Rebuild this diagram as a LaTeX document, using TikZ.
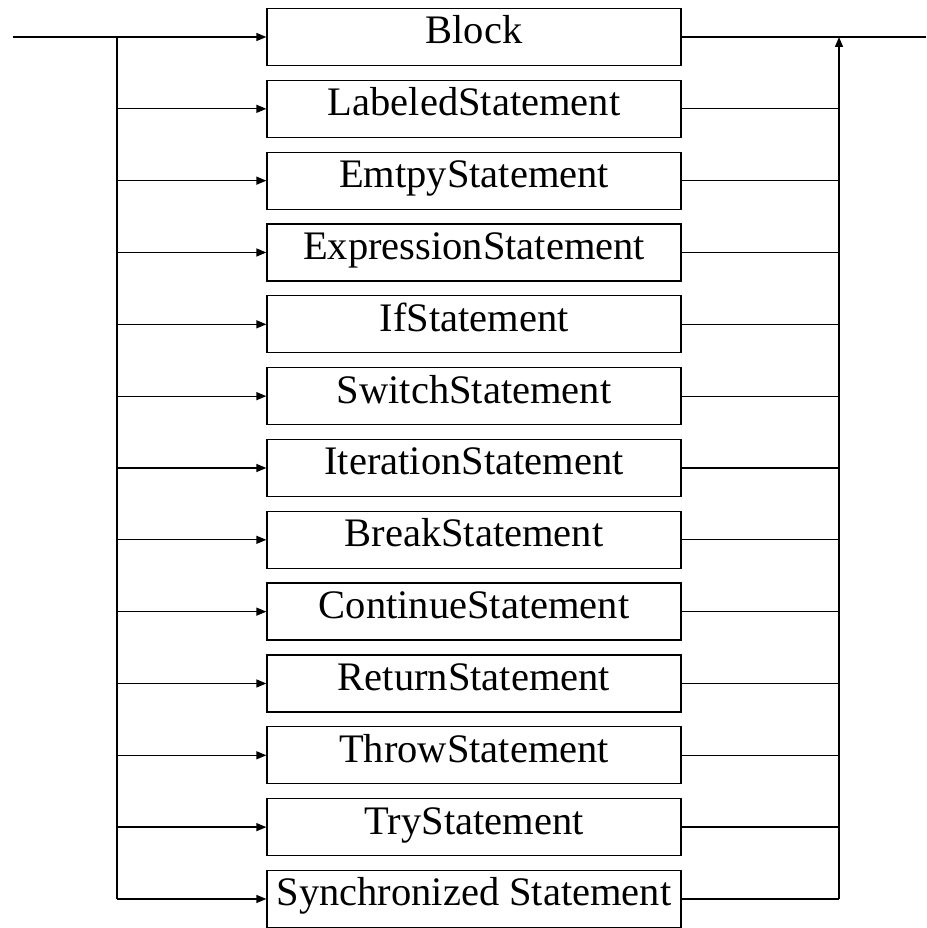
\documentclass[tikz,border=0pt]{standalone}
\usepackage{fontspec}
\setmainfont{Liberation Serif}
\usetikzlibrary{arrows.meta}
\begin{document}
\begin{tikzpicture}[x=1pt,y=-1pt,
  box/.style={draw, line width=1.3pt, minimum width=414pt, minimum height=57pt, inner sep=0pt,
    text height=25pt, text depth=11pt, font=\fontsize{40.5}{40.5}\selectfont},
  wire/.style={line width=1.3pt},
  tip/.style={-{Triangle[length=10pt,width=8pt]}}]
\useasboundingbox (0,0) rectangle (926,928);
\coordinate (in) at (13,37);
\coordinate (out) at (926,37);
\foreach \t [count=\i from 0] in {Block, LabeledStatement, EmtpyStatement, ExpressionStatement, IfStatement, SwitchStatement, IterationStatement, BreakStatement, ContinueStatement, ReturnStatement, ThrowStatement, TryStatement, Synchronized Statement} {
  \pgfmathsetmacro{\yy}{37+\i*71.83}
  \node[box] (b\i) at (474,\yy) {\t};
  \coordinate (L\i) at (117,\yy);
  \coordinate (R\i) at (839,\yy);
  \draw[wire,tip] (L\i) -- (b\i.west);
}
\foreach \i in {1,...,12} { \draw[wire] (b\i.east) -- (R\i); }
\draw[wire] (in) -- (L0);
\draw[wire] (L0) -- (L12);
\draw[wire] (b0.east) -- (out);
\draw[wire,tip] (R12) -- (R0);
\end{tikzpicture}
\end{document}
